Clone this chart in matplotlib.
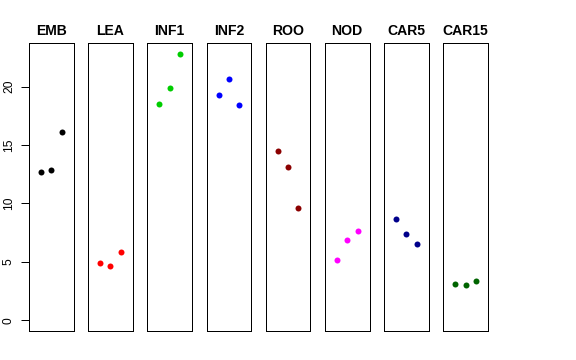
import matplotlib
matplotlib.use('Agg')
import matplotlib.pyplot as plt

# Data: three replicates per tissue
tissues = ['EMB', 'LEA', 'INF1', 'INF2', 'ROO', 'NOD', 'CAR5', 'CAR15']
colors = ['black', 'red', '#00CD00', 'blue', '#8B0000', 'magenta', '#00008B', '#006400']
emb = [12.67, 12.87, 16.15]
lea = [4.92, 4.67, 5.81]
inf1 = [18.55, 19.88, 22.79]
inf2 = [19.32, 20.68, 18.40]
roo = [14.53, 13.13, 9.60]
nod = [5.13, 6.86, 7.66]
car5 = [8.66, 7.35, 6.52]
car15 = [3.13, 3.04, 3.38]
values = [emb, lea, inf1, inf2, roo, nod, car5, car15]
reps = [1, 2, 3]
yticks = [0, 5, 10, 15, 20]

plt.rcParams['font.family'] = ['Liberation Sans', 'DejaVu Sans']

W, H = 576, 360
fig = plt.figure(figsize=(W / 72, H / 72), dpi=72)

# R-style limits: 4% padding around the data range
ymax = max(max(v) for v in values)
ypad = 0.04 * ymax
xpad = 0.04 * 4

left0 = 29.0
step = 59.19
pw = 44.6
bottom = 29.0
ph = 287.7

for i, (name, col, vals) in enumerate(zip(tissues, colors, values)):
    ax = fig.add_axes([(left0 + i * step) / W, bottom / H, pw / W, ph / H])
    ax.plot(reps, vals, 'o', color=col, ms=6, mec='none')
    ax.set_xlim(0 - xpad, 4 + xpad)
    ax.set_ylim(0 - ypad, ymax + ypad)
    ax.set_xticks([])
    for sp in ax.spines.values():
        sp.set_linewidth(1)
        sp.set_color('black')
    ax.set_title(name, fontsize=14, fontweight='bold', pad=8)
    if i == 0:
        ax.set_yticks(yticks)
        ax.set_yticklabels([str(t) for t in yticks], rotation=90, va='center', fontsize=12)
        ax.tick_params(axis='y', length=8, width=1, pad=6)
    else:
        ax.set_yticks([])

fig.savefig('out.png', dpi=72)
